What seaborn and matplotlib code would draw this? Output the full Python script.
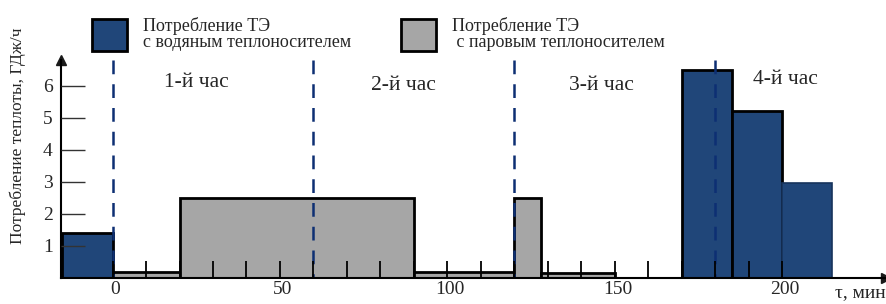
import matplotlib
matplotlib.use("Agg")
import matplotlib.pyplot as plt
import matplotlib.transforms as mtransforms
import seaborn as sns
from matplotlib.patches import Patch

# heat consumption, GJ/h, by time interval (minutes)
water_start = [-15, 170, 185, 200]
water_width = [15, 15, 15, 15]
water_value = [1.4, 6.5, 5.2, 2.95]

steam_start = [0, 20, 90, 120, 128]
steam_width = [20, 70, 30, 8, 22]
steam_value = [0.2, 2.5, 0.2, 2.5, 0.15]

hour_marks = [0, 60, 120, 180]
hour_labels = ["1-й час", "2-й час", "3-й час", "4-й час"]
hour_label_x = [25, 87, 146, 201]
hour_label_y = [6.1, 6.0, 6.0, 6.2]

x_ticks = [0, 50, 100, 150, 200]
y_ticks = [1, 2, 3, 4, 5, 6]

legend_labels = ["Потребление ТЭ\nс водяным теплоносителем",
                 "Потребление ТЭ\n с паровым теплоносителем"]

WATER = "#204679"
STEAM = "#a6a6a6"
DASH = "#0d2f73"

sns.set_theme(style="white")
plt.rcParams["font.family"] = ["Liberation Serif", "DejaVu Serif"]

fig = plt.figure(figsize=(8.86, 3.04), dpi=100)
ax = fig.add_axes([61 / 886, 26 / 304, 825 / 886, 218 / 304])

ax.bar(steam_start, steam_value, width=steam_width, align="edge",
       color=STEAM, edgecolor="black", linewidth=2, zorder=1)
bars = ax.bar(water_start, water_value, width=water_width, align="edge",
              color=WATER, edgecolor="black", linewidth=2, zorder=1)
# last water bar has a dark-blue outline in the original
bars[-1].set_edgecolor("#17335c")
bars[-1].set_linewidth(1.2)

for x in hour_marks:
    ax.plot([x, x], [6.8, 0], color=DASH, linewidth=1.8,
            linestyle=(0, (5.5, 4)), zorder=3)

for lbl, x, y in zip(hour_labels, hour_label_x, hour_label_y):
    ax.text(x, y, lbl, fontsize=15.5, ha="center", va="center")

ax.set_xlim(-15.4, 231)
ax.set_ylim(0, 6.8)

for side in ["top", "right"]:
    ax.spines[side].set_visible(False)
for side in ["left", "bottom"]:
    ax.spines[side].set_color("black")
    ax.spines[side].set_linewidth(1.5)
    ax.spines[side].set_zorder(4)

# arrow heads on the axes
ax.plot(1, 0, ">k", markersize=7, transform=ax.transAxes, clip_on=False)
ax.plot(0, 1, "^k", markersize=7, transform=ax.transAxes, clip_on=False)

ax.set_xticks(x_ticks)
ax.set_xticks(range(10, 201, 10), minor=True)
ax.set_yticks(y_ticks)
ax.tick_params(axis="x", which="both", direction="in", length=12, width=1.3,
               color="black", labelsize=14, pad=2, bottom=True)
ax.tick_params(axis="y", direction="in", length=17, width=1, color="#333333",
               labelsize=14, pad=6, left=True)
ax.xaxis.set_zorder(5)
ax.yaxis.set_zorder(5)

shift = mtransforms.ScaledTranslation(0.03, 0, fig.dpi_scale_trans)
for t in ax.get_xticklabels():
    t.set_transform(t.get_transform() + shift)

ax.text(1.0, -0.03, "τ, мин", transform=ax.transAxes, fontsize=14,
        ha="right", va="top")

fig.text(18 / 886, 1 - 136 / 304, "Потребление теплоты, ГДж/ч", rotation=90,
         fontsize=12.5, ha="center", va="center")

handles = [Patch(facecolor=WATER, edgecolor="black", linewidth=2),
           Patch(facecolor=STEAM, edgecolor="black", linewidth=2)]
leg = fig.legend(handles, legend_labels, ncol=2, loc="upper left",
                 bbox_to_anchor=(92 / 886, 1 - 17 / 304), frameon=False,
                 fontsize=13, handlelength=1.95, handleheight=2.3,
                 handletextpad=0.85, columnspacing=2.8, borderpad=0,
                 borderaxespad=0)
for t in leg.get_texts():
    t.set_linespacing(0.95)

fig.savefig("out.png", dpi=100)
plt.close(fig)
